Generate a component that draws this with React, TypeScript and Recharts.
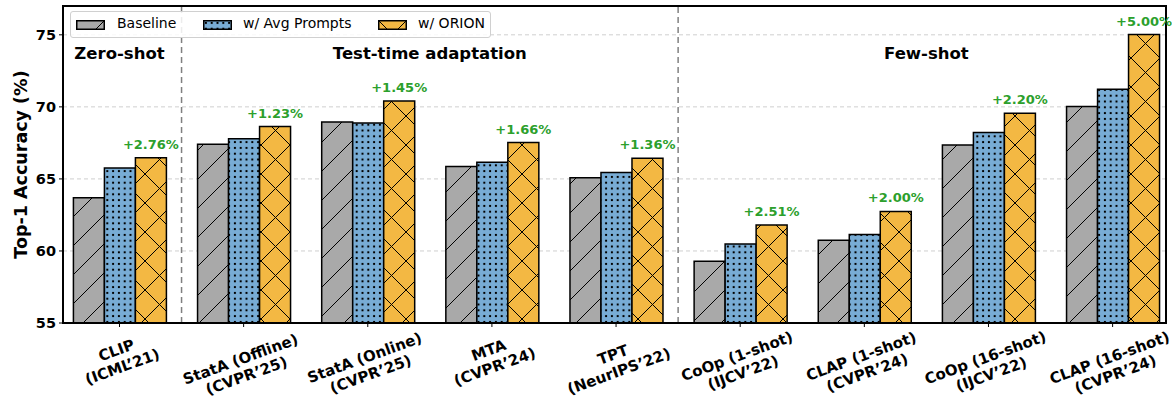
import React from 'react';
import {
  ComposedChart,
  Bar,
  XAxis,
  YAxis,
  CartesianGrid,
  ReferenceLine,
  ReferenceDot,
  ReferenceArea,
  LabelList,
} from 'recharts';

const methods = [
  'CLIP',
  'StatA (Offline)',
  'StatA (Online)',
  'MTA',
  'TPT',
  'CoOp (1-shot)',
  'CLAP (1-shot)',
  'CoOp (16-shot)',
  'CLAP (16-shot)',
];
const venues = [
  '(ICML’21)',
  '(CVPR’25)',
  '(CVPR’25)',
  '(CVPR’24)',
  '(NeurIPS’22)',
  '(IJCV’22)',
  '(CVPR’24)',
  '(IJCV’22)',
  '(CVPR’24)',
];
const baseline = [63.7, 67.4, 68.95, 65.86, 65.08, 59.29, 60.74, 67.36, 70.02];
const avgPrompts = [65.76, 67.78, 68.88, 66.15, 65.44, 60.49, 61.15, 68.22, 71.23];
const orion = [66.46, 68.63, 70.4, 67.52, 66.44, 61.8, 62.74, 69.56, 75.02];
const gains = ['+2.76%', '+1.23%', '+1.45%', '+1.66%', '+1.36%', '+2.51%', '+2.00%', '+2.20%', '+5.00%'];

const sectionNames = ['Zero-shot', 'Test-time adaptation', 'Few-shot'];
const sectionCenters = [0, 2.5, 6.5];
const separators = [0.5, 4.5];
const yTicks = [55, 60, 65, 70, 75];

const data = methods.map((m, i) => ({
  x: i,
  baseline: baseline[i],
  avg: avgPrompts[i],
  orion: orion[i],
  gain: gains[i],
}));

const FONT = '"DejaVu Sans", sans-serif';
const GRAY = '#a9a9a9';
const BLUE = '#78acd5';
const ORANGE = '#f3b843';
const GREEN = '#2ca02c';
const HATCH = 29;

const Patterns = () => (
  <defs>
    <pattern id="hGray" patternUnits="userSpaceOnUse" width={HATCH} height={HATCH}>
      <rect width={HATCH} height={HATCH} fill={GRAY} />
      <path d={`M0,${HATCH} L${HATCH},0 M-2,2 L2,-2 M${HATCH - 2},${HATCH + 2} L${HATCH + 2},${HATCH - 2}`} stroke="#000" strokeWidth={1} />
    </pattern>
    <pattern id="hBlue" patternUnits="userSpaceOnUse" width={5.8} height={5.8}>
      <rect width={5.8} height={5.8} fill={BLUE} />
      <rect x={1.9} y={1.9} width={2} height={2} fill="#000" />
    </pattern>
    <pattern id="hOrange" patternUnits="userSpaceOnUse" width={HATCH} height={HATCH}>
      <rect width={HATCH} height={HATCH} fill={ORANGE} />
      <path
        d={`M0,${HATCH} L${HATCH},0 M-2,2 L2,-2 M${HATCH - 2},${HATCH + 2} L${HATCH + 2},${HATCH - 2} M0,0 L${HATCH},${HATCH} M-2,${HATCH - 2} L2,${HATCH + 2} M${HATCH - 2},-2 L${HATCH + 2},2`}
        stroke="#000"
        strokeWidth={1}
      />
    </pattern>
  </defs>
);

const ANGLE = 20;

// two-line tick label rotated, top of rotated box hangs under the tick
const XTick = (props: any) => {
  const { x, y, payload } = props;
  const i = payload.value as number;
  if (i < 0 || i >= methods.length) return null;
  const lines = [methods[i], venues[i]];
  const fs = 15;
  const w = Math.max(...lines.map((s) => s.length)) * fs * 0.58;
  const h = 33;
  const a = (ANGLE * Math.PI) / 180;
  const cy = y + 1 + (w * Math.sin(a) + h * Math.cos(a)) / 2;
  return (
    <text
      transform={`rotate(${-ANGLE} ${x} ${cy})`}
      textAnchor="middle"
      fontSize={fs}
      fontWeight="bold"
      fontFamily={FONT}
      fill="#000"
    >
      <tspan x={x} y={cy - 4}>{lines[0]}</tspan>
      <tspan x={x} y={cy + 13.5}>{lines[1]}</tspan>
    </text>
  );
};

const GainLabel = (props: any) => {
  const { x, y, width, value } = props;
  return (
    <text x={x + width / 2} y={y - 9} textAnchor="middle" fontSize={13} fontWeight="bold" fontFamily={FONT} fill={GREEN}>
      {value}
    </text>
  );
};

const legendItems = [
  { name: 'Baseline', fill: 'url(#hGray)', left: 5, text: 46 },
  { name: 'w/ Avg Prompts', fill: 'url(#hBlue)', left: 132, text: 172 },
  { name: 'w/ ORION', fill: 'url(#hOrange)', left: 307, text: 347 },
];

const App = () => {
  return (
    <div style={{ position: 'absolute', left: 0, top: 0, width: 1172, height: 400, background: '#fff' }}>
      <ComposedChart
        width={1172}
        height={400}
        data={data}
        margin={{ top: 6, right: 6, left: 0, bottom: 0 }}
        barGap={0}
      >
        <Patterns />
        <CartesianGrid vertical={false} stroke="#cfcfcf" strokeDasharray="4 3" />
        <XAxis
          type="number"
          dataKey="x"
          domain={[-0.455, 8.43]}
          ticks={[0, 1, 2, 3, 4, 5, 6, 7, 8]}
          allowDataOverflow
          height={77}
          tick={<XTick />}
          tickSize={4}
          tickMargin={2}
          interval={0}
          axisLine={{ stroke: '#000', strokeWidth: 2 }}
          tickLine={{ stroke: '#000' }}
        />
        <YAxis
          type="number"
          domain={[55, 77]}
          ticks={yTicks}
          allowDataOverflow
          width={63}
          tickSize={4}
          tickMargin={3}
          tick={{ fontSize: 14.5, fontWeight: 'bold', fontFamily: FONT, fill: '#000' }}
          axisLine={{ stroke: '#000', strokeWidth: 2 }}
          tickLine={{ stroke: '#000' }}
          label={{
            value: 'Top-1 Accuracy (%)',
            angle: -90,
            position: 'center',
            dx: -11,
            style: { fontSize: 17.5, fontWeight: 'bold', fontFamily: FONT, fill: '#000' },
          }}
        />
        {separators.map((s) => (
          <ReferenceLine key={s} x={s} stroke="#808080" strokeWidth={1.5} strokeDasharray="6 4" />
        ))}
        <Bar dataKey="baseline" barSize={31} fill="url(#hGray)" stroke="#000" strokeWidth={1.5} isAnimationActive={false} />
        <Bar dataKey="avg" barSize={31} fill="url(#hBlue)" stroke="#000" strokeWidth={1.5} isAnimationActive={false} />
        <Bar dataKey="orion" barSize={31} fill="url(#hOrange)" stroke="#000" strokeWidth={1.5} isAnimationActive={false}>
          <LabelList dataKey="gain" content={<GainLabel />} />
        </Bar>
        {sectionNames.map((name, i) => (
          <ReferenceDot
            key={name}
            x={sectionCenters[i]}
            y={73.7}
            r={0}
            fill="none"
            stroke="none"
            label={{
              value: name,
              position: 'center',
              style: { fontSize: 16.5, fontWeight: 'bold', fontFamily: FONT, fill: '#000' },
            }}
          />
        ))}
        <ReferenceArea x1={-0.455} x2={8.43} y1={55} y2={77} fill="none" stroke="#000" strokeWidth={2} />
      </ComposedChart>
      <div
        style={{
          position: 'absolute',
          left: 70,
          top: 11,
          width: 419,
          height: 25,
          border: '1px solid #d0d0d0',
          borderRadius: 3,
          background: 'rgba(255,255,255,0.85)',
          fontFamily: FONT,
          fontSize: 14,
        }}
      >
        {legendItems.map((it) => (
          <React.Fragment key={it.name}>
            <svg style={{ position: 'absolute', left: it.left, top: 8 }} width={29} height={10}>
              <rect x={0.75} y={0.75} width={27.5} height={8.5} fill={it.fill} stroke="#000" strokeWidth={1.5} />
            </svg>
            <span style={{ position: 'absolute', left: it.text, top: 3, color: '#000', whiteSpace: 'nowrap' }}>{it.name}</span>
          </React.Fragment>
        ))}
      </div>
    </div>
  );
};

export default App;
